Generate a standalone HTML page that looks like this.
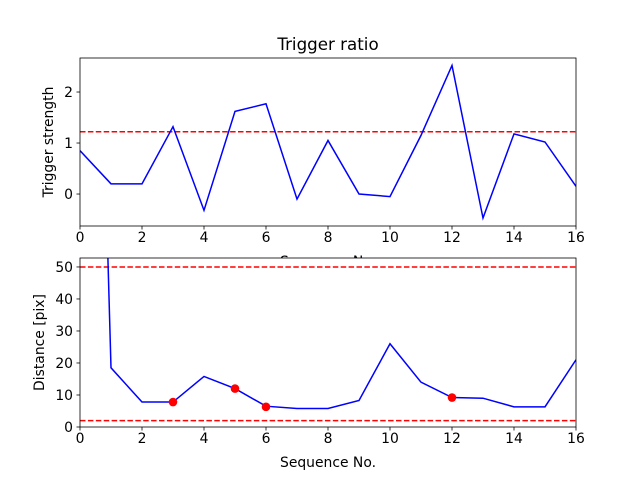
<!DOCTYPE html>
<html><head><meta charset="utf-8"><style>
html,body{margin:0;padding:0;background:#fff;}
svg{display:block;font-family:"DejaVu Sans","Liberation Sans",sans-serif;}
</style></head><body>
<svg id="fig" width="640" height="480" viewBox="0 0 640 480" xmlns="http://www.w3.org/2000/svg"></svg>
<script>
const seqTop = [0,1,2,3,4,5,6,7,8,9,10,11,12,13,14,15,16];
const triggerValues = [0.85,0.2,0.2,1.32,-0.32,1.62,1.77,-0.1,1.05,0.0,-0.05,1.15,2.52,-0.47,1.18,1.02,0.15];
const triggerThreshold = 1.22;
const topYTicks = [0,1,2];
const xTicks = [0,2,4,6,8,10,12,14,16];
const seqBottom = [0,1,2,3,4,5,6,7,8,9,10,11,12,13,14,15,16];
const distanceValues = [361,18.5,7.8,7.8,15.8,12,6.5,5.8,5.8,8.3,26,14,9.2,9,6.3,6.3,21];
const markerSeq = [3,5,6,12];
const markerValues = [7.8,12,6.3,9.2];
const distanceLimits = [50,2];
const bottomYTicks = [0,10,20,30,40,50];

const NS="http://www.w3.org/2000/svg";
const svg=document.getElementById('fig');
function mk(tag,attrs,parent){const e=document.createElementNS(NS,tag);for(const k in attrs)e.setAttribute(k,attrs[k]);(parent||svg).appendChild(e);return e;}

function drawAxes(o){
  const g=mk('g',{});
  
  
  const sx=v=>o.x0+(v-o.xmin)/(o.xmax-o.xmin)*(o.x1-o.x0);
  const sy=v=>o.y1-(v-o.ymin)/(o.ymax-o.ymin)*(o.y1-o.y0);
  const bg=mk('rect',{x:o.x0,y:o.y0,width:o.x1-o.x0,height:o.y1-o.y0,fill:'#fff'},g);
  
  
  const clipId='clip-'+o.name;
  const cp=mk('clipPath',{id:clipId},g);
  mk('rect',{x:o.x0,y:o.y0,width:o.x1-o.x0,height:o.y1-o.y0},cp);
  const data=mk('g',{'clip-path':'url(#'+clipId+')'},g);
  o.hlines.forEach(v=>{
    const l=mk('line',{x1:o.x0,x2:o.x1,y1:sy(v),y2:sy(v),stroke:'#ff0000','stroke-width':1.5,'stroke-dasharray':'5.5,2.4'},data);
    
    
  });
  const pts=o.xs.map((x,i)=>sx(x).toFixed(2)+','+sy(o.ys[i]).toFixed(2)).join(' ');
  const pl=mk('polyline',{points:pts,fill:'none',stroke:'#0000ff','stroke-width':1.5},data);
  
  
  (o.mx||[]).forEach((x,i)=>{
    const c=mk('circle',{cx:sx(x),cy:sy(o.my[i]),r:4.3,fill:'#ff0000'},data);
    
    
  });
  mk('rect',{x:o.x0,y:o.y0,width:o.x1-o.x0,height:o.y1-o.y0,fill:'none',stroke:'#000','stroke-width':0.8},g);
  xTicks.forEach(v=>{
    const x=sx(v);
    mk('line',{x1:x,x2:x,y1:o.y1,y2:o.y1+3.5,stroke:'#000','stroke-width':0.8},g);
    const t=mk('text',{x:x,y:o.y1+16,'font-size':'13.9','text-anchor':'middle',fill:'#000'},g);
    t.textContent=v;
    
    
  });
  o.yticks.forEach(v=>{
    const y=sy(v);
    mk('line',{x1:o.x0,x2:o.x0-3.5,y1:y,y2:y,stroke:'#000','stroke-width':0.8},g);
    const t=mk('text',{x:o.x0-7,y:y+5,'font-size':'13.9','text-anchor':'end',fill:'#000'},g);
    t.textContent=v;
    
    
  });
  const yl=mk('text',{x:0,y:0,'font-size':'13.9','text-anchor':'middle',transform:'translate('+o.ylabX+','+((o.y0+o.y1)/2)+') rotate(-90)'},g);
  yl.textContent=o.ylabel;
  
  
  const xl=mk('text',{x:(o.x0+o.x1)/2,y:o.y1+40,'font-size':'13.9','text-anchor':'middle'},g);
  xl.textContent='Sequence No.';
  
  
  return g;
}

const title=mk('text',{x:328,y:50,'font-size':'16.7','text-anchor':'middle'});
title.textContent='Trigger ratio';



drawAxes({name:'trigger-axes',x0:80,x1:576,y0:58,y1:226,xmin:0,xmax:16,ymin:-0.627,ymax:2.667,
  xs:seqTop,ys:triggerValues,hlines:[triggerThreshold],yticks:topYTicks,ylabel:'Trigger strength',ylabX:53});
drawAxes({name:'distance-axes',x0:80,x1:576,y0:258,y1:427,xmin:0,xmax:16,ymin:0,ymax:52.8,
  xs:seqBottom,ys:distanceValues,hlines:distanceLimits,mx:markerSeq,my:markerValues,yticks:bottomYTicks,ylabel:'Distance [pix]',ylabX:44});
</script>
</body></html>
